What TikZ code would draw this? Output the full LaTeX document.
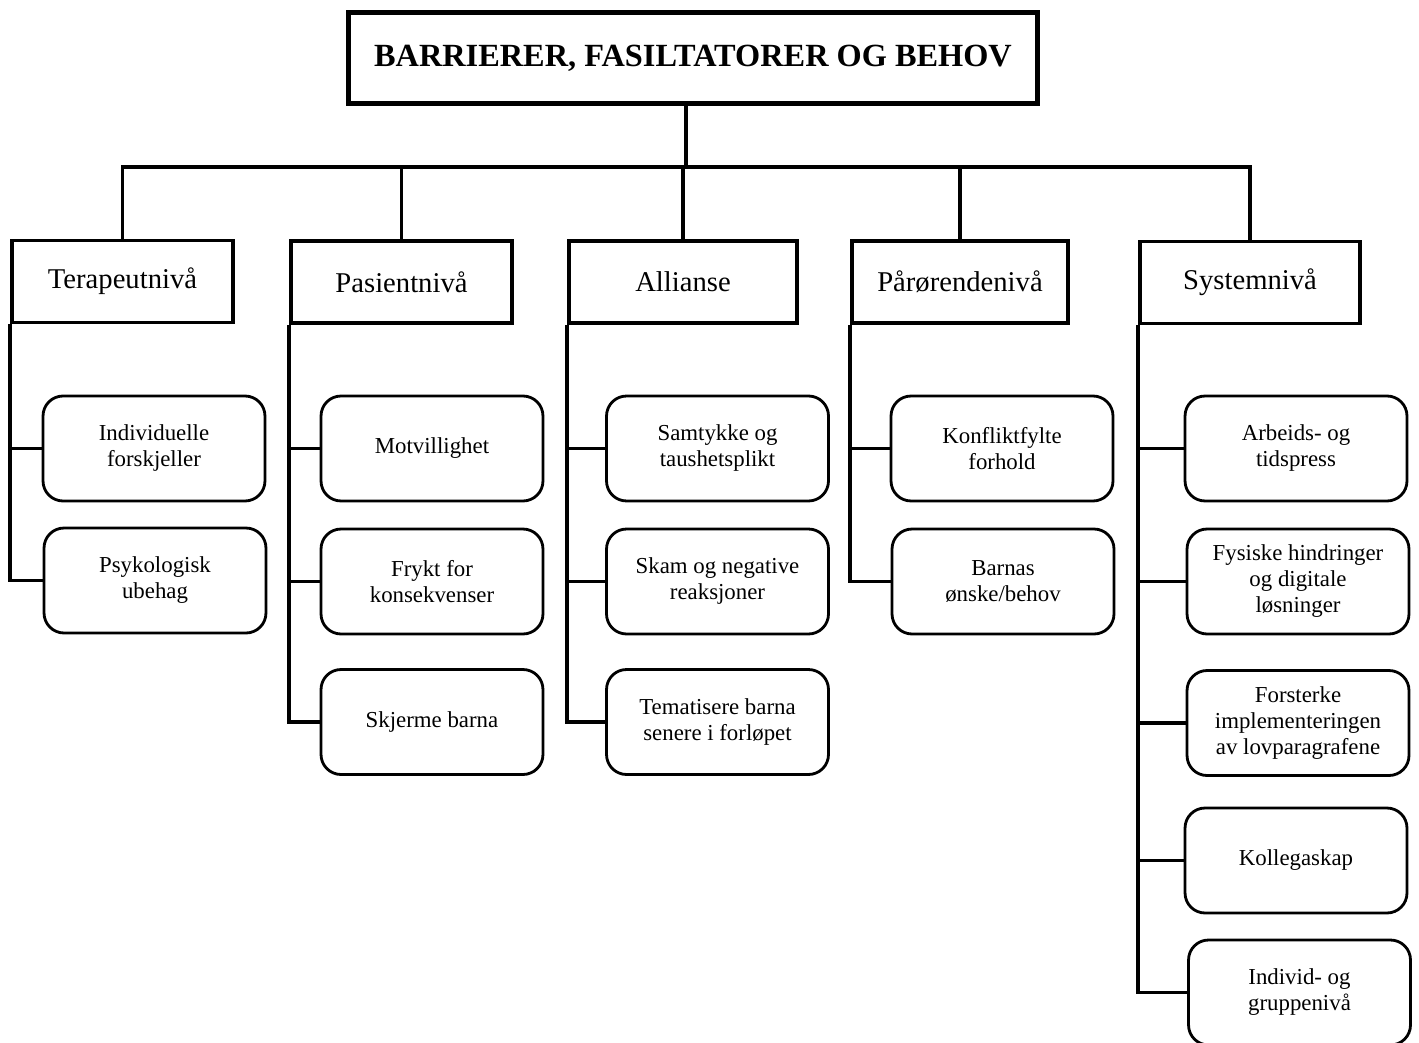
\documentclass[tikz,border=0pt]{standalone}
\usepackage{fontspec}
\setmainfont{Liberation Serif}
\begin{document}
\begin{tikzpicture}[x=0.02cm,y=-0.02cm,
  titlebox/.style={draw,line width=2.8pt,minimum width=13.8cm,minimum height=1.82cm,inner sep=0pt,
    font=\fontsize{18.4}{21}\selectfont\bfseries},
  levelbox/.style={draw,line width=2.2pt,minimum height=1.64cm,inner sep=0pt,
    font=\fontsize{16.3}{19}\selectfont},
  leafbox/.style={draw,line width=1.6pt,rounded corners=0.4cm,minimum width=4.44cm,minimum height=2.1cm,
    inner sep=0pt,align=center,font=\fontsize{13}{14.8}\selectfont},
  conn/.style={line width=2.2pt},
  spine/.style={line width=2.2pt}]
\useasboundingbox (0,0) rectangle (1419,1043);
% title
\node[titlebox] (title) at (693,58) {\raisebox{-1.5pt}{BARRIERER, FASILTATORER OG BEHOV}};
\coordinate (bus) at (686,167);
% level 2
\node[levelbox,minimum width=4.42cm] (T) at (122.5,281.5) {Terapeutnivå};
\node[levelbox,minimum width=4.42cm] (P) at (401.5,282) {Pasientnivå};
\node[levelbox,minimum width=4.56cm] (A) at (683,282) {Allianse};
\node[levelbox,minimum width=4.32cm] (R) at (960,282) {Pårørendenivå};
\node[levelbox,minimum width=4.40cm] (S) at (1250,282.5) {Systemnivå};
% top connectors
\draw[conn] (bus |- title.south) -- (bus);
\draw[conn,line cap=rect] (T.north) -- (T.north |- bus) -- (S.north |- bus) -- (S.north);
\draw[conn] (P.north) -- (P.north |- bus);
\draw[conn] (A.north) -- (A.north |- bus);
\draw[conn] (R.north) -- (R.north |- bus);
% leaves: Terapeutnivå
\node[leafbox] (T1) at (154,448.5) {Individuelle\\forskjeller};
\node[leafbox] (T2) at (155,580.5) {Psykologisk\\ubehag};
% Pasientnivå
\node[leafbox] (P1) at (432,448.5) {Motvillighet};
\node[leafbox] (P2) at (432,581.5) {Frykt for\\konsekvenser};
\node[leafbox] (P3) at (432,722) {Skjerme barna};
% Allianse
\node[leafbox] (A1) at (717.5,448.5) {Samtykke og\\taushetsplikt};
\node[leafbox] (A2) at (717.5,581.5) {Skam og negative\\reaksjoner};
\node[leafbox] (A3) at (717.5,722) {Tematisere barna\\senere i forløpet};
% Pårørendenivå
\node[leafbox] (R1) at (1002,448.5) {Konfliktfylte\\forhold};
\node[leafbox] (R2) at (1003,581.5) {Barnas\\ønske/behov};
% Systemnivå
\node[leafbox] (S1) at (1296,448.5) {Arbeids- og\\tidspress};
\node[leafbox] (S2) at (1298,581.5) {Fysiske hindringer\\og digitale\\løsninger};
\node[leafbox] (S3) at (1298,723) {Forsterke\\implementeringen\\av lovparagrafene};
\node[leafbox] (S4) at (1296,860.5) {Kollegaskap};
\node[leafbox] (S5) at (1299.5,992.5) {Individ- og\\gruppenivå};
% spines
\draw[spine] (T.south west) |- (T2.west);
\draw[conn] (T.south west |- T1.west) -- (T1.west);
\draw[spine] (P.south west) |- (P3.west);
\draw[conn] (P.south west |- P1.west) -- (P1.west);
\draw[conn] (P.south west |- P2.west) -- (P2.west);
\draw[spine] (A.south west) |- (A3.west);
\draw[conn] (A.south west |- A1.west) -- (A1.west);
\draw[conn] (A.south west |- A2.west) -- (A2.west);
\draw[spine] (R.south west) |- (R2.west);
\draw[conn] (R.south west |- R1.west) -- (R1.west);
\draw[spine] (S.south west) |- (S5.west);
\draw[conn] (S.south west |- S1.west) -- (S1.west);
\draw[conn] (S.south west |- S2.west) -- (S2.west);
\draw[conn] (S.south west |- S3.west) -- (S3.west);
\draw[conn] (S.south west |- S4.west) -- (S4.west);
\end{tikzpicture}
\end{document}
